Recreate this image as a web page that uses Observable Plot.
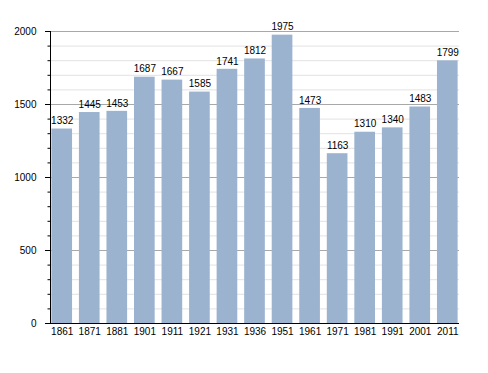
<!DOCTYPE html>
<html>
<head>
<meta charset="utf-8">
<script src="https://cdn.jsdelivr.net/npm/d3@7"></script>
<script src="https://cdn.jsdelivr.net/npm/@observablehq/plot@0.6"></script>
<style>
  html, body { margin: 0; padding: 0; background: #fff; }
  svg { display: block; font-family: "Liberation Sans", Arial, sans-serif; }
</style>
</head>
<body>
<div id="chart"></div>
<script>
const years = ["1861","1871","1881","1901","1911","1921","1931","1936","1951","1961","1971","1981","1991","2001","2011"];
const population = [1332,1445,1453,1687,1667,1585,1741,1812,1975,1473,1163,1310,1340,1483,1799];
const majorTicks = [0,500,1000,1500,2000];
const minorTicks = d3.range(0, 2001, 100);

const data = years.map((y, i) => ({year: y, value: population[i]}));

const chart = Plot.plot({
  width: 488,
  height: 373,
  marginLeft: 50,
  marginRight: 29,
  marginTop: 31,
  marginBottom: 50,
  style: {fontFamily: "Liberation Sans, Arial, sans-serif", fontSize: "10px", color: "#000", background: "#fff"},
  x: {type: "band", domain: years, paddingInner: 0.25, paddingOuter: 0.05, round: false, label: null},
  y: {domain: [0, 2000], label: null},
  marks: [
    Plot.ruleY(minorTicks.filter(d => d % 500 !== 0), {stroke: "#e2e2e2", strokeWidth: 1}),
    Plot.ruleY(majorTicks, {stroke: "#a8a8a8", strokeWidth: 1}),
    Plot.barY(data, {x: "year", y: "value", fill: "#9bb3cf"}),
    Plot.text(data, {x: "year", y: "value", text: d => String(d.value), dy: -8, fill: "#000", fontSize: 10}),
    Plot.axisY(minorTicks, {tickSize: 2.5, tickFormat: () => "", stroke: "#000"}),
    Plot.axisY(majorTicks, {tickSize: 5, tickPadding: 9, tickFormat: d3.format("d"), stroke: "#000", fill: "#000", fontSize: 10, label: null}),
    Plot.axisX({tickSize: 0, tickPadding: 4, fill: "#000", fontSize: 10, label: null}),
    Plot.frame({anchor: "left", stroke: "#000"}),
    Plot.ruleY([0], {stroke: "#000"})
  ]
});
document.getElementById("chart").appendChild(chart);
</script>
</body>
</html>
